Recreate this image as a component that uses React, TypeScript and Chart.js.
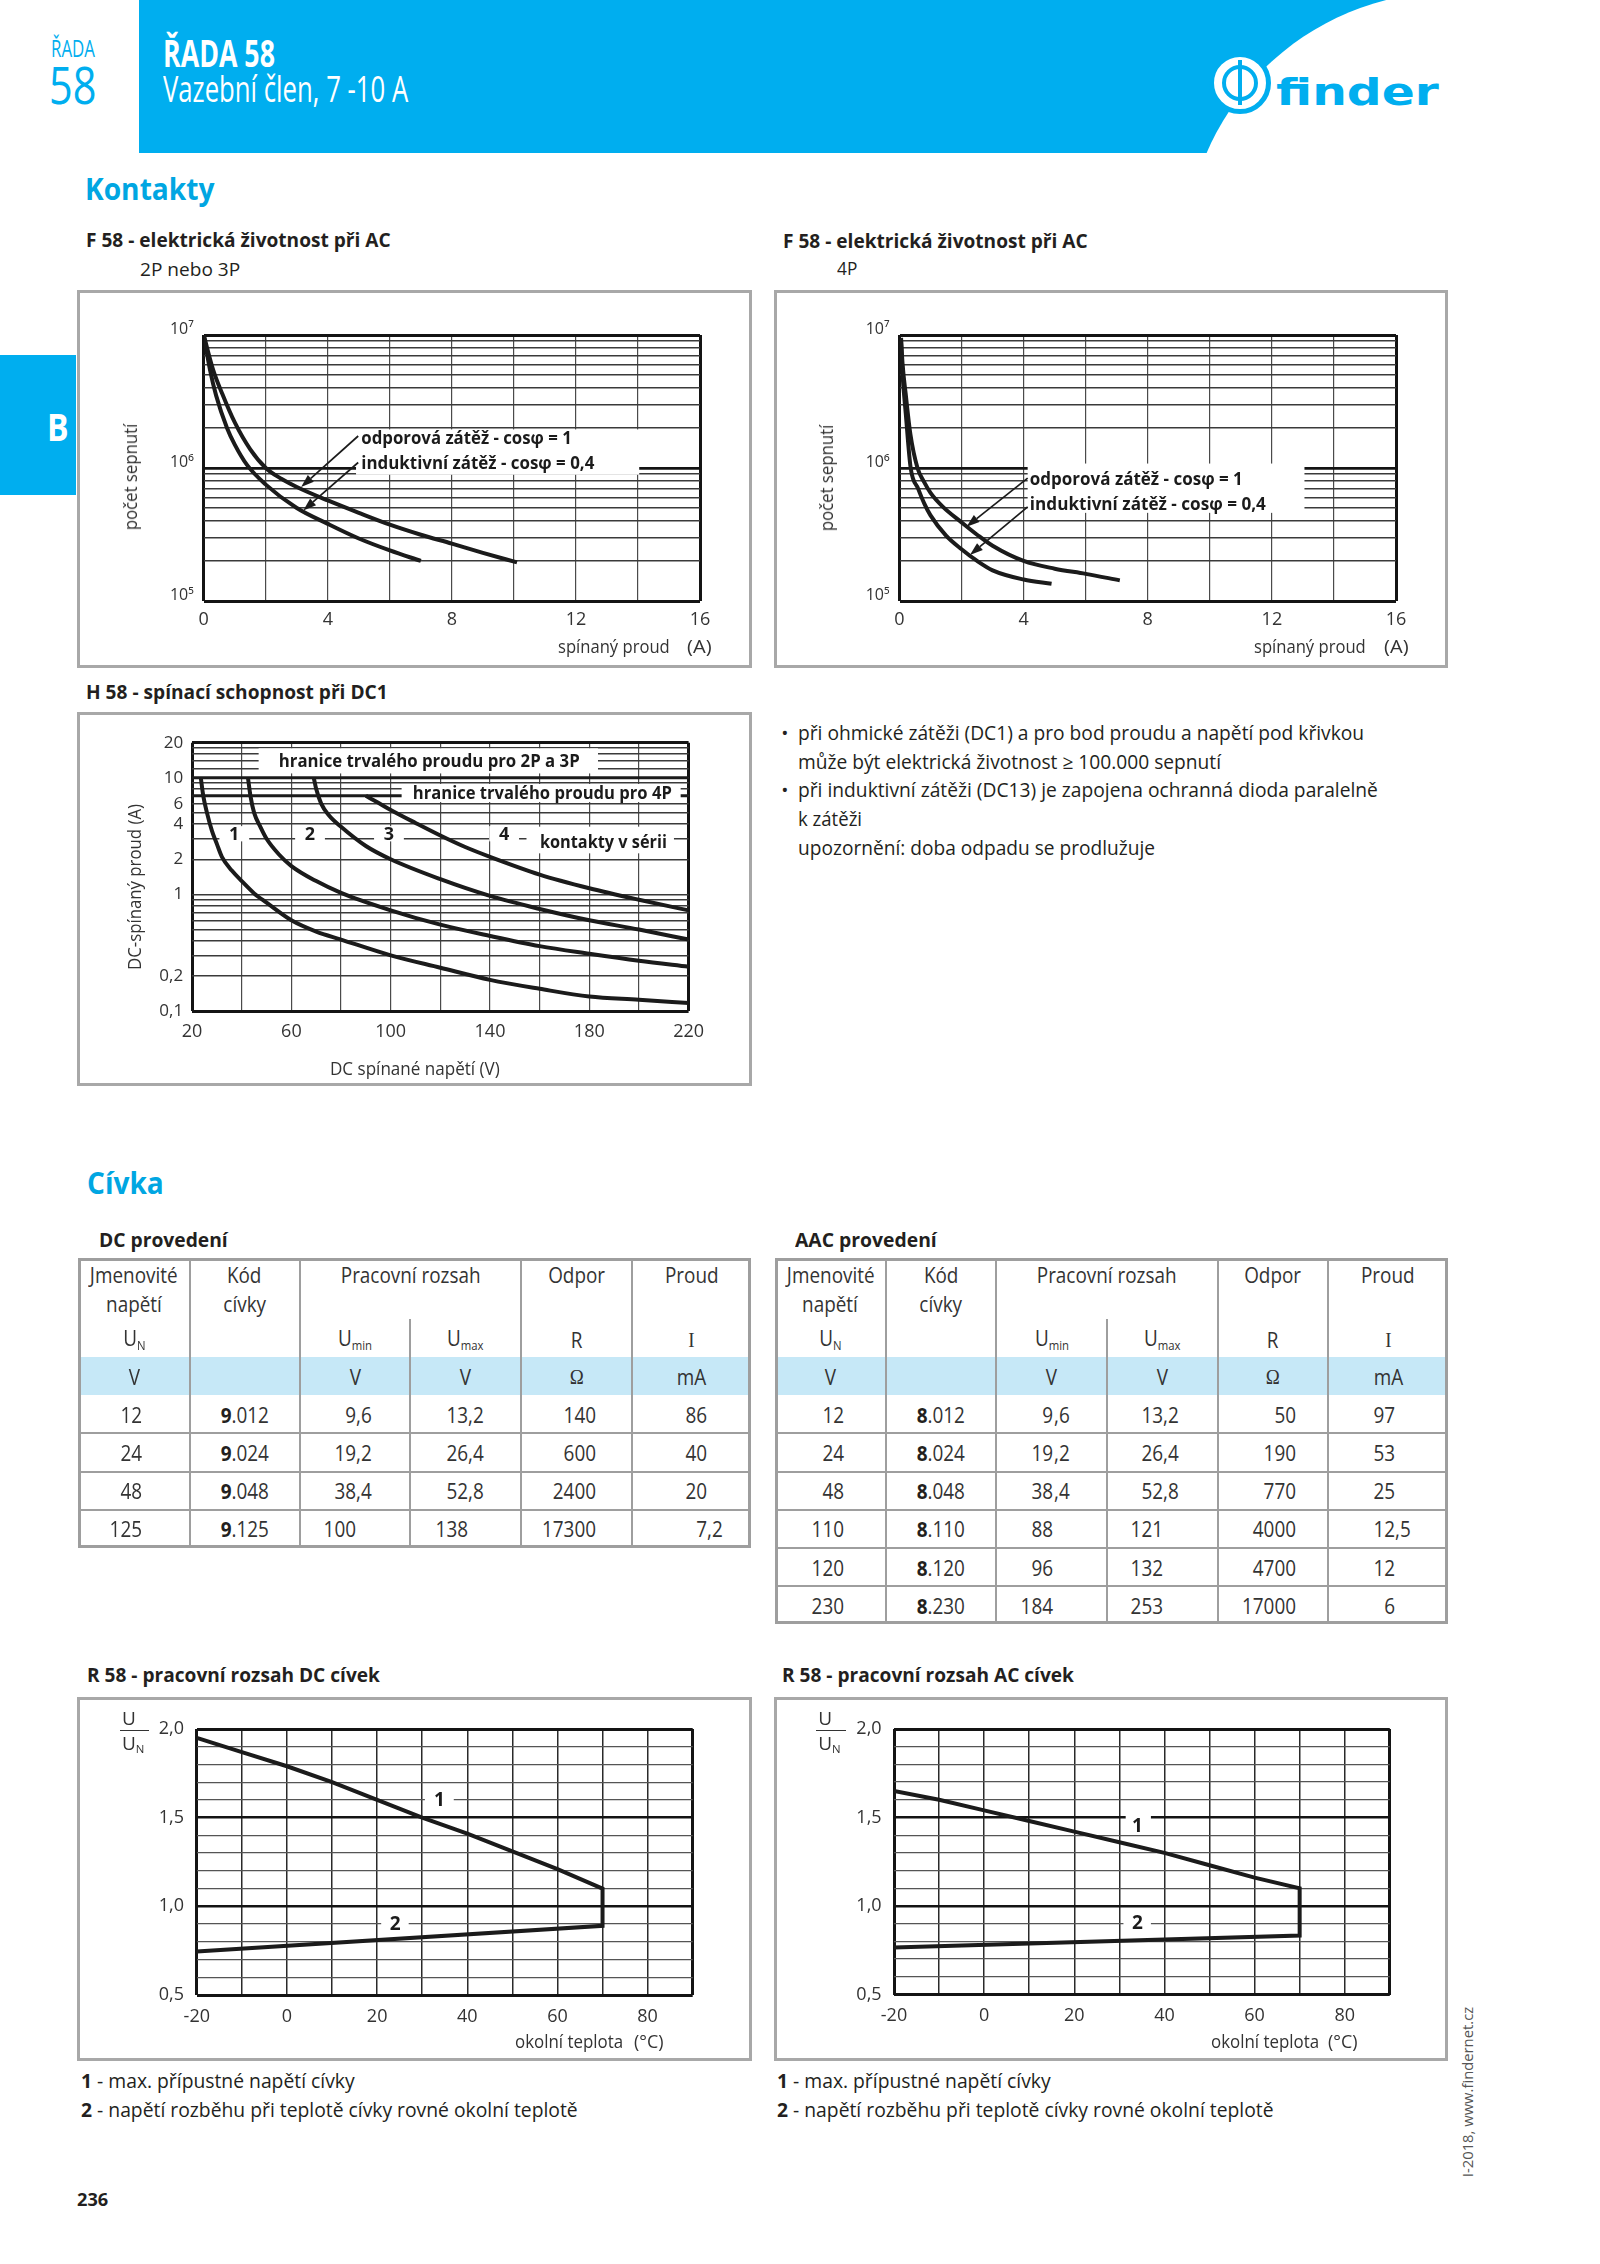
import React, { useEffect, useLayoutEffect, useRef, useState } from 'react';
import { Chart, registerables } from 'chart.js';
Chart.register(...registerables);

const FONT = '"Open Sans", "Noto Sans", sans-serif';
const SERIF = '"Liberation Serif", "DejaVu Serif", serif';
const BLUE = '#00aeef';
const INK = '#231f20';
Chart.defaults.font.family = FONT;

// ---------- F 58 : electrical life AC, 2P / 3P ----------
const life2pCurrentRes = [0, 0.3, 0.6, 1.0, 1.5, 2.0, 2.5, 3.0, 4.0, 5.0, 6.0, 7.0, 8.0, 9.0, 10.1];
const life2pCyclesRes = [1e7, 5.5e6, 3.6e6, 2.2e6, 1.38e6, 1.0e6, 8.3e5, 7.2e5, 5.7e5, 4.6e5, 3.75e5, 3.15e5, 2.7e5, 2.3e5, 1.95e5];
const life2pCurrentInd = [0, 0.2, 0.4, 0.75, 1.0, 1.4, 2.0, 3.0, 4.0, 5.0, 6.0, 7.0];
const life2pCyclesInd = [1e7, 5.5e6, 3.5e6, 2.0e6, 1.5e6, 1.05e6, 7.5e5, 5.0e5, 3.8e5, 2.95e5, 2.4e5, 2.0e5];

// ---------- F 58 : electrical life AC, 4P ----------
const life4pCurrentRes = [0.05, 0.1, 0.2, 0.35, 0.58, 0.8, 1.0, 1.4, 2.0, 2.5, 3.0, 4.0, 5.0, 6.0, 7.1];
const life4pCyclesRes = [9.5e6, 6e6, 3.6e6, 1.8e6, 1.0e6, 7.8e5, 6.5e5, 5.1e5, 3.9e5, 3.15e5, 2.6e5, 2.0e5, 1.75e5, 1.6e5, 1.43e5];
const life4pCurrentInd = [0.05, 0.1, 0.2, 0.36, 0.6, 0.8, 1.0, 1.5, 2.0, 2.5, 3.0, 4.0, 4.9];
const life4pCyclesInd = [9e6, 5e6, 2.6e6, 1.0e6, 7e5, 5.4e5, 4.4e5, 3.1e5, 2.45e5, 2.0e5, 1.7e5, 1.45e5, 1.35e5];

// ---------- H 58 : DC1 breaking capacity ----------
const dc1Volt = [23.5, 24.5, 26, 28, 30, 32, 36, 40, 45, 50, 60, 70, 80, 100, 120, 140, 160, 180, 200, 220];
const dc1Amp = [10, 7, 5, 3.5, 2.7, 2.1, 1.6, 1.3, 1.02, 0.85, 0.6, 0.48, 0.41, 0.3, 0.235, 0.185, 0.155, 0.133, 0.125, 0.117];
const dc2Volt = [42.5, 43.5, 45, 47.5, 50, 55, 60, 70, 80, 100, 120, 140, 160, 180, 200, 220];
const dc2Amp = [10, 7, 5, 3.8, 3.0, 2.2, 1.75, 1.3, 1.03, 0.73, 0.55, 0.44, 0.36, 0.31, 0.27, 0.24];
const dc3Volt = [69, 70, 72, 75, 80, 90, 100, 120, 140, 160, 180, 200, 220];
const dc3Amp = [10, 8, 6, 4.8, 3.8, 2.6, 2.0, 1.35, 0.97, 0.75, 0.6, 0.5, 0.41];
const dc4Volt = [90, 95, 100, 110, 120, 130, 140, 160, 180, 200, 220];
const dc4Amp = [7, 6.1, 5.3, 4.1, 3.2, 2.55, 2.1, 1.48, 1.13, 0.9, 0.73];
const limit2p3pVolt = [20, 220];
const limit2p3pAmp = [10, 10];
const limit4pVolt = [20, 220];
const limit4pAmp = [7, 7];

// ---------- R 58 : coil operating range ----------
const dcCoilTemp = [-20, -10, 0, 10, 20, 30, 40, 50, 60, 70];
const dcCoilMax = [1.95, 1.87, 1.79, 1.70, 1.60, 1.50, 1.41, 1.31, 1.21, 1.10];
const dcCoilMinTemp = [-20, 70];
const dcCoilMin = [0.745, 0.89];
const acCoilTemp = [-20, -10, 0, 10, 20, 30, 40, 50, 60, 70];
const acCoilMax = [1.65, 1.60, 1.54, 1.48, 1.42, 1.36, 1.30, 1.23, 1.16, 1.10];
const acCoilMinTemp = [-20, 70];
const acCoilMin = [0.765, 0.833];

// ---------- ticks ----------
const lifeTicks = [1e5, 2e5, 3e5, 4e5, 5e5, 6e5, 7e5, 8e5, 9e5, 1e6, 2e6, 3e6, 4e6, 5e6, 6e6, 7e6, 8e6, 9e6, 1e7];
const lifeLabelValues = [1e5, 1e6, 1e7];
const lifeLabelTexts = ['10⁵', '10⁶', '10⁷'];
const currentTicks = [0, 2, 4, 6, 8, 10, 12, 14, 16];
const currentLabelValues = [0, 4, 8, 12, 16];
const voltTicks = [20, 40, 60, 80, 100, 120, 140, 160, 180, 200, 220];
const voltLabelValues = [20, 60, 100, 140, 180, 220];
const ampTicks = [0.1, 0.2, 0.3, 0.4, 0.5, 0.6, 0.7, 0.8, 0.9, 1, 2, 3, 4, 5, 6, 7, 8, 9, 10, 12, 14, 16, 18, 20];
const ampLabelValues = [0.1, 0.2, 1, 2, 4, 6, 10, 20];
const ampLabelTexts = ['0,1', '0,2', '1', '2', '4', '6', '10', '20'];
const tempTicks = [-20, -10, 0, 10, 20, 30, 40, 50, 60, 70, 80, 90];
const tempLabelValues = [-20, 0, 20, 40, 60, 80];
const ratioTicks = [0.5, 0.6, 0.7, 0.8, 0.9, 1.0, 1.1, 1.2, 1.3, 1.4, 1.5, 1.6, 1.7, 1.8, 1.9, 2.0];
const ratioLabelValues = [0.5, 1.0, 1.5, 2.0];
const ratioLabelTexts = ['0,5', '1,0', '1,5', '2,0'];

// ---------- coil tables ----------
const dcRatedV = ['12', '24', '48', '125'];
const dcCode = ['012', '024', '048', '125'];
const dcUmin = ['9,6', '19,2', '38,4', '100'];
const dcUmax = ['13,2', '26,4', '52,8', '138'];
const dcRes = ['140', '600', '2400', '17300'];
const dcCur = ['86', '40', '20', '7,2'];
const acRatedV = ['12', '24', '48', '110', '120', '230'];
const acCode = ['012', '024', '048', '110', '120', '230'];
const acUmin = ['9,6', '19,2', '38,4', '88', '96', '184'];
const acUmax = ['13,2', '26,4', '52,8', '121', '132', '253'];
const acRes = ['50', '190', '770', '4000', '4700', '17000'];
const acCur = ['97', '53', '25', '12,5', '12', '6'];

// ---------- annotations (data coordinates) ----------
const ann2pBoxes = [{ x0: 4.91, x1: 14.04, y0: 8.9e5, y1: 1.95e6 }];
const ann2pTexts = [
  { x: 5.08, y: 1.69e6, text: 'odporová zátěž - cosφ = 1', w: 210.5, size: 17 },
  { x: 5.08, y: 1.08e6, text: 'induktivní zátěž - cosφ = 0,4', w: 233, size: 17 },
];
const ann2pArrows = [
  { x0: 4.98, y0: 1.74e6, x1: 3.14, y1: 7.2e5 },
  { x0: 4.98, y0: 1.1e6, x1: 3.21, y1: 4.8e5 },
];
const ann4pBoxes = [{ x0: 4.13, x1: 13.05, y0: 4.6e5, y1: 1.08e6 }];
const ann4pTexts = [
  { x: 4.2, y: 8.3e5, text: 'odporová zátěž - cosφ = 1', w: 213, size: 17 },
  { x: 4.2, y: 5.37e5, text: 'induktivní zátěž - cosφ = 0,4', w: 236, size: 17 },
];
const ann4pArrows = [
  { x0: 4.13, y0: 8.4e5, x1: 2.16, y1: 3.62e5 },
  { x0: 4.13, y0: 5.1e5, x1: 2.27, y1: 2.22e5 },
];
const annDcBoxes = [
  { x0: 46.8, x1: 183.5, y0: 10.9, y1: 17.9 },
  { x0: 104.4, x1: 216.8, y0: 6.2, y1: 8.85 },
  { x0: 154.7, x1: 214.1, y0: 2.25, y1: 3.81 },
  { x0: 31, x1: 43, y0: 2.85, y1: 3.85 },
  { x0: 61.5, x1: 73.5, y0: 2.85, y1: 3.85 },
  { x0: 93.3, x1: 105.3, y0: 2.85, y1: 3.85 },
  { x0: 139.7, x1: 151.7, y0: 2.85, y1: 3.85 },
];
const annDcTexts = [
  { x: 54.9, y: 13.9, text: 'hranice trvalého proudu pro 2P a 3P', w: 301, size: 17 },
  { x: 108.9, y: 7.36, text: 'hranice trvalého proudu pro 4P', w: 259, size: 17 },
  { x: 160.1, y: 2.8, text: 'kontakty v sérii', w: 127, size: 17 },
  { x: 36.9, y: 3.3, text: '1', size: 18, align: 'center' },
  { x: 67.5, y: 3.3, text: '2', size: 18, align: 'center' },
  { x: 99.3, y: 3.3, text: '3', size: 18, align: 'center' },
  { x: 145.7, y: 3.3, text: '4', size: 18, align: 'center' },
];
const annRdcBoxes = [
  { x0: 30.6, x1: 37, y0: 1.555, y1: 1.645 },
  { x0: 20.9, x1: 27, y0: 0.86, y1: 0.945 },
];
const annRdcTexts = [
  { x: 33.8, y: 1.6, text: '1', size: 19, align: 'center' },
  { x: 24.0, y: 0.904, text: '2', size: 19, align: 'center' },
];
const annRacBoxes = [
  { x0: 31.4, x1: 37, y0: 1.41, y1: 1.525 },
  { x0: 30.9, x1: 37, y0: 0.86, y1: 0.945 },
];
const annRacTexts = [
  { x: 34, y: 1.455, text: '1', size: 19, align: 'center' },
  { x: 34, y: 0.904, text: '2', size: 19, align: 'center' },
];

type Box = { x: number; y: number; w: number; h: number };
type Plot = { l: number; t: number; r: number; b: number };

const boxA: Box = { x: 77, y: 290, w: 675, h: 378 };
const plotA: Plot = { l: 203.75, t: 335, r: 700, b: 601 };
const boxB: Box = { x: 774, y: 290, w: 674, h: 378 };
const plotB: Plot = { l: 899.5, t: 335, r: 1396, b: 601 };
const boxC: Box = { x: 77, y: 712, w: 675, h: 374 };
const plotC: Plot = { l: 192.1, t: 742.7, r: 688.6, b: 1011 };
const boxD: Box = { x: 77, y: 1697, w: 675, h: 364 };
const plotD: Plot = { l: 196.8, t: 1729, r: 692.7, b: 1995 };
const boxE: Box = { x: 774, y: 1697, w: 674, h: 364 };
const plotE: Plot = { l: 894, t: 1729, r: 1389.8, b: 1994.5 };

const near = (a: number, b: number) => Math.abs(a - b) <= 1e-6 * Math.max(1, Math.abs(b));
const has = (arr: number[], v: number) => arr.some((m) => near(v, m));
const zip = (xs: number[], ys: number[]) => xs.map((x, i) => ({ x, y: ys[i] }));

function curve(xs: number[], ys: number[], smooth = true, width = 4) {
  return {
    data: zip(xs, ys),
    showLine: true,
    borderColor: '#1b1b1b',
    backgroundColor: '#1b1b1b',
    borderWidth: width,
    pointRadius: 0,
    fill: false,
    tension: smooth ? 0.4 : 0,
    cubicInterpolationMode: smooth ? 'monotone' : 'default',
    borderJoinStyle: 'miter',
    borderCapStyle: 'butt',
  };
}

function axis(o: any) {
  return {
    type: o.type,
    min: o.min,
    max: o.max,
    afterBuildTicks: (s: any) => {
      s.ticks = o.ticks.map((v: number) => ({ value: v }));
    },
    border: { display: false },
    grid: {
      drawTicks: false,
      color: (c: any) => {
        const v = c.tick ? c.tick.value : NaN;
        return has(o.edges, v) || has(o.majors, v) ? '#141414' : o.minorColor;
      },
      lineWidth: (c: any) => {
        const v = c.tick ? c.tick.value : NaN;
        return has(o.edges, v) ? 3 : has(o.majors, v) ? o.majorWidth : o.minorWidth;
      },
    },
    ticks: {
      autoSkip: false,
      maxRotation: 0,
      minRotation: 0,
      padding: o.padding,
      labelOffset: o.labelOffset || 0,
      color: '#333',
      font: { family: FONT, size: o.fontSize },
      callback: (v: any) => {
        const n = Number(v);
        const i = o.labelValues.findIndex((m: number) => near(n, m));
        return i < 0 ? '' : o.labelTexts ? o.labelTexts[i] : String(o.labelValues[i]);
      },
    },
  };
}

function overlayPlugin(boxes: any[], texts: any[], arrows: any[]) {
  return {
    id: 'overlay',
    afterDatasetsDraw(chart: any) {
      const { ctx } = chart;
      const xs = chart.scales.x;
      const ys = chart.scales.y;
      ctx.save();
      ctx.fillStyle = '#fff';
      for (const b of boxes) {
        const a0 = xs.getPixelForValue(b.x0), a1 = xs.getPixelForValue(b.x1);
        const c0 = ys.getPixelForValue(b.y0), c1 = ys.getPixelForValue(b.y1);
        ctx.fillRect(Math.min(a0, a1), Math.min(c0, c1), Math.abs(a1 - a0), Math.abs(c1 - c0));
      }
      ctx.strokeStyle = '#1b1b1b';
      ctx.fillStyle = '#1b1b1b';
      ctx.lineWidth = 1.7;
      for (const a of arrows) {
        const x0 = xs.getPixelForValue(a.x0), y0 = ys.getPixelForValue(a.y0);
        const x1 = xs.getPixelForValue(a.x1), y1 = ys.getPixelForValue(a.y1);
        const ang = Math.atan2(y1 - y0, x1 - x0);
        const L = 13, W = 4.5;
        const bx = x1 - L * Math.cos(ang), by = y1 - L * Math.sin(ang);
        ctx.beginPath();
        ctx.moveTo(x0, y0);
        ctx.lineTo(bx, by);
        ctx.stroke();
        ctx.beginPath();
        ctx.moveTo(x1, y1);
        ctx.lineTo(bx + W * Math.sin(ang), by - W * Math.cos(ang));
        ctx.lineTo(bx - W * Math.sin(ang), by + W * Math.cos(ang));
        ctx.closePath();
        ctx.fill();
      }
      for (const t of texts) {
        ctx.font = `bold ${t.size}px ${FONT}`;
        const m = ctx.measureText(t.text).width;
        const sx = t.w ? t.w / m : 1;
        const px = xs.getPixelForValue(t.x), py = ys.getPixelForValue(t.y);
        ctx.save();
        ctx.translate(px, py);
        ctx.scale(sx, 1);
        ctx.textAlign = t.align || 'left';
        ctx.textBaseline = 'middle';
        ctx.fillText(t.text, 0, 1);
        ctx.restore();
      }
      ctx.restore();
    },
  };
}

function buildConfig(box: Box, plot: Plot, datasets: any[], xAxis: any, yAxis: any, plugin: any) {
  return {
    type: 'scatter',
    data: { datasets },
    options: {
      responsive: false,
      maintainAspectRatio: false,
      animation: false,
      events: [],
      layout: { padding: { left: 0, top: plot.t - box.y, right: box.x + box.w - plot.r, bottom: 0 } },
      plugins: { legend: { display: false }, tooltip: { enabled: false } },
      scales: {
        x: { ...xAxis, afterFit: (s: any) => { s.height = box.y + box.h - plot.b; } },
        y: { ...yAxis, afterFit: (s: any) => { s.width = plot.l - box.x; } },
      },
    },
    plugins: [plugin],
  };
}

const lifeX = () => axis({ type: 'linear', min: 0, max: 16, ticks: currentTicks, labelValues: currentLabelValues, edges: [0, 16], majors: [], minorColor: '#4a4a4a', minorWidth: 1.2, majorWidth: 2.8, fontSize: 18, padding: 8 });
const lifeY = () => axis({ type: 'logarithmic', min: 1e5, max: 1e7, ticks: lifeTicks, labelValues: lifeLabelValues, labelTexts: lifeLabelTexts, edges: [1e5, 1e7], majors: [1e6], minorColor: '#3a3a3a', minorWidth: 1.6, majorWidth: 2.8, fontSize: 16, padding: 10, labelOffset: -6 });
const voltX = () => axis({ type: 'linear', min: 20, max: 220, ticks: voltTicks, labelValues: voltLabelValues, edges: [20, 220], majors: [], minorColor: '#4a4a4a', minorWidth: 1.2, majorWidth: 2.8, fontSize: 18, padding: 10 });
const ampY = () => axis({ type: 'logarithmic', min: 0.1, max: 20, ticks: ampTicks, labelValues: ampLabelValues, labelTexts: ampLabelTexts, edges: [0.1, 20], majors: [], minorColor: '#3a3a3a', minorWidth: 1.5, majorWidth: 2.8, fontSize: 17, padding: 9 });
const tempX = () => axis({ type: 'linear', min: -20, max: 90, ticks: tempTicks, labelValues: tempLabelValues, edges: [-20, 90], majors: [], minorColor: '#2a2a2a', minorWidth: 1.5, majorWidth: 2.8, fontSize: 18, padding: 11 });
const ratioY = (pad: number) => axis({ type: 'linear', min: 0.5, max: 2.0, ticks: ratioTicks, labelValues: ratioLabelValues, labelTexts: ratioLabelTexts, edges: [0.5, 2.0], majors: [1.0, 1.5], minorColor: '#555', minorWidth: 1.3, majorWidth: 2.6, fontSize: 18, padding: pad });

function rangeDataset(temp: number[], max: number[], minTemp: number[], min: number[]) {
  const xs = [...temp, ...[...minTemp].reverse()];
  const ys = [...max, ...[...min].reverse()];
  return curve(xs, ys, false, 4);
}

function ChartBox({ box, make }: { box: Box; make: () => any }) {
  const ref = useRef<HTMLCanvasElement>(null);
  useEffect(() => {
    const chart = new Chart(ref.current as HTMLCanvasElement, make());
    return () => chart.destroy();
  }, []);
  return (
    <>
      <div style={{ position: 'absolute', left: box.x, top: box.y, width: box.w, height: box.h, border: '3px solid #a8a8a8', boxSizing: 'border-box', background: '#fff' }} />
      <canvas ref={ref} width={box.w} height={box.h} style={{ position: 'absolute', left: box.x, top: box.y, width: box.w, height: box.h }} />
    </>
  );
}

type TxtProps = {
  x: number; cy: number; size: number; children: React.ReactNode; w?: number; sx?: number;
  weight?: number; color?: string; align?: 'left' | 'center' | 'right'; family?: string; rot?: boolean;
};
function Txt(p: TxtProps) {
  const { x, cy, size, children, w, sx, weight = 400, color = INK, align = 'left', family = FONT, rot } = p;
  const ref = useRef<HTMLSpanElement>(null);
  const [s, setS] = useState(sx ?? 1);
  useLayoutEffect(() => {
    if (w && ref.current) {
      const nat = ref.current.offsetWidth;
      if (nat > 0) setS(w / nat);
    }
  }, [w]);
  const base: React.CSSProperties = { fontFamily: family, fontSize: size, fontWeight: weight, color, lineHeight: `${size}px`, whiteSpace: 'nowrap', flexShrink: 0, display: 'inline-block' };
  if (rot) {
    return (
      <div style={{ position: 'absolute', left: x, top: cy, width: 0, height: 0 }}>
        <span ref={ref} style={{ ...base, position: 'absolute', left: 0, top: 0, transformOrigin: 'center center', transform: `translate(-50%,-50%) rotate(-90deg) scaleX(${s})` }}>{children}</span>
      </div>
    );
  }
  const jc = align === 'left' ? 'flex-start' : align === 'right' ? 'flex-end' : 'center';
  const origin = align === 'left' ? 'left center' : align === 'right' ? 'right center' : 'center center';
  return (
    <div style={{ position: 'absolute', left: x, top: cy - size / 2, width: 0, height: size, display: 'flex', justifyContent: jc, alignItems: 'center' }}>
      <span ref={ref} style={{ ...base, transformOrigin: origin, transform: `scaleX(${s})` }}>{children}</span>
    </div>
  );
}

const Sub = ({ children }: { children: React.ReactNode }) => (
  <span style={{ fontSize: '0.6em', position: 'relative', top: '0.3em' }}>{children}</span>
);

function Rect({ x, y, w, h, bg }: { x: number; y: number; w: number; h: number; bg: string }) {
  return <div style={{ position: 'absolute', left: x, top: y, width: w, height: h, background: bg }} />;
}

function CoilTable({ cols, anchors, rows, prefix, cells }: { cols: number[]; anchors: number[]; rows: number[]; prefix: string; cells: string[][] }) {
  const top = 1258, divTop = 1319, unitTop = 1357, unitBot = 1395;
  const bottom = rows[rows.length - 1];
  const line = '#9e9e9e';
  const TS = 21, SX = 0.9;
  const cc = (i: number) => (cols[i] + cols[i + 1]) / 2;
  const out: React.ReactNode[] = [];
  out.push(<Rect key="u" x={cols[0]} y={unitTop} w={cols[6] - cols[0]} h={unitBot - unitTop} bg="#c6e8f7" />);
  for (let i = 1; i < 6; i++) {
    const t = i === 3 ? divTop : top;
    out.push(<Rect key={'v' + i} x={cols[i] - 1} y={t} w={2} h={bottom - t} bg={line} />);
  }
  for (let r = 1; r < rows.length - 1; r++) out.push(<Rect key={'h' + r} x={cols[0]} y={rows[r] - 1} w={cols[6] - cols[0]} h={2} bg={line} />);
  out.push(<div key="b" style={{ position: 'absolute', left: cols[0], top, width: cols[6] - cols[0], height: bottom - top, border: `3px solid ${line}`, boxSizing: 'border-box' }} />);
  const hdr = (k: string, x: number, cy: number, node: React.ReactNode, fam = FONT) => (
    <Txt key={k} x={x} cy={cy} size={TS} sx={SX} align="center" family={fam} color="#333">{node}</Txt>
  );
  out.push(hdr('h1', cc(0), 1275, 'Jmenovité'), hdr('h2', cc(0), 1304, 'napětí'), hdr('h3', cc(0), 1340, <>U<Sub>N</Sub></>));
  out.push(hdr('h4', cc(1), 1275, 'Kód'), hdr('h5', cc(1), 1304, 'cívky'));
  out.push(hdr('h6', cols[3], 1275, 'Pracovní rozsah'), hdr('h7', cc(2), 1340, <>U<Sub>min</Sub></>), hdr('h8', cc(3), 1340, <>U<Sub>max</Sub></>));
  out.push(hdr('h9', cc(4), 1275, 'Odpor'), hdr('h10', cc(4), 1340, 'R'));
  out.push(hdr('h11', cc(5), 1275, 'Proud'), hdr('h12', cc(5), 1340, 'I', SERIF));
  out.push(hdr('u1', cc(0), 1377, 'V'), hdr('u2', cc(2), 1377, 'V'), hdr('u3', cc(3), 1377, 'V'), hdr('u4', cc(4), 1377, 'Ω', SERIF), hdr('u5', cc(5), 1377, 'mA'));
  for (let r = 0; r < rows.length - 1; r++) {
    const cy = (rows[r] + rows[r + 1]) / 2 + 1;
    const row = cells.map((c) => c[r]);
    row.forEach((val, ci) => {
      if (ci === 1) {
        out.push(<Txt key={`c${r}-${ci}`} x={cc(1)} cy={cy} size={TS} sx={SX} align="center" color="#333"><b style={{ color: INK }}>{prefix}</b>.{val}</Txt>);
        return;
      }
      const [ip, fp] = val.split(',');
      const ax = cols[ci] + anchors[ci];
      out.push(<Txt key={`c${r}-${ci}a`} x={ax} cy={cy} size={TS} sx={SX} align="right" color="#333">{ip}</Txt>);
      if (fp !== undefined) out.push(<Txt key={`c${r}-${ci}b`} x={ax} cy={cy} size={TS} sx={SX} align="left" color="#333">{',' + fp}</Txt>);
    });
  }
  return <>{out}</>;
}

function Header() {
  return (
    <>
      <div style={{ position: 'absolute', left: 139, top: 0, width: 1461, height: 153, background: BLUE, overflow: 'hidden' }}>
        <div style={{ position: 'absolute', left: 1451 - 139 - 266, top: 258 - 266, width: 532, height: 532, borderRadius: '50%', background: '#fff' }} />
        <div style={{ position: 'absolute', left: 1451 - 139, top: 0, width: 400, height: 153, background: '#fff' }} />
      </div>
      <Txt x={51} cy={48} size={23} w={44} color={BLUE}>ŘADA</Txt>
      <Txt x={49} cy={83.5} size={52} w={47} color={BLUE}>58</Txt>
      <Txt x={163} cy={52} size={38} w={112} weight={700} color="#fff">ŘADA 58</Txt>
      <Txt x={163} cy={89} size={36} w={245} color="#fff">Vazební člen, 7 -10 A</Txt>
      <div style={{ position: 'absolute', left: 1209, top: 51.5, width: 62, height: 62, borderRadius: '50%', background: '#fff', border: `5px solid ${BLUE}`, boxSizing: 'border-box' }} />
      <div style={{ position: 'absolute', left: 1222, top: 65, width: 36, height: 36, borderRadius: '50%', border: `4px solid ${BLUE}`, boxSizing: 'border-box' }} />
      <Rect x={1238} y={60} w={4} h={45} bg={BLUE} />
      <Txt x={1275.5} cy={92} size={38} w={163} weight={700} color={BLUE} family='"DejaVu Sans", sans-serif'>finder</Txt>
      <Rect x={0} y={355} w={76} h={140} bg={BLUE} />
      <Txt x={46.7} cy={426.7} size={37} w={21.7} weight={700} color="#fff">B</Txt>
    </>
  );
}

export default function App() {
  return (
    <div style={{ position: 'absolute', left: 0, top: 0, width: 1600, height: 2264, background: '#fff', overflow: 'hidden', fontFamily: FONT, color: INK }}>
      <Header />

      <Txt x={84.6} cy={189} size={30} w={129.5} weight={700} color="#00a6e2">Kontakty</Txt>
      <Txt x={85.9} cy={240} size={19} w={304.5} weight={700}>F 58 - elektrická životnost při AC</Txt>
      <Txt x={140.4} cy={269} size={19} w={100.4}>2P nebo 3P</Txt>
      <Txt x={782.5} cy={241} size={19} w={304.5} weight={700}>F 58 - elektrická životnost při AC</Txt>
      <Txt x={837} cy={268} size={19} w={20}>4P</Txt>

      <ChartBox box={boxA} make={() => buildConfig(boxA, plotA,
        [curve(life2pCurrentRes, life2pCyclesRes), curve(life2pCurrentInd, life2pCyclesInd)],
        lifeX(), lifeY(), overlayPlugin(ann2pBoxes, ann2pTexts, ann2pArrows))} />
      <Txt x={130} cy={476.7} size={18} w={106} rot color="#333">počet sepnutí</Txt>
      <Txt x={557.8} cy={646} size={18} w={111.6} color="#333">spínaný proud</Txt>
      <Txt x={687.2} cy={646} size={18} w={24.6} color="#333">(A)</Txt>

      <ChartBox box={boxB} make={() => buildConfig(boxB, plotB,
        [curve(life4pCurrentRes, life4pCyclesRes), curve(life4pCurrentInd, life4pCyclesInd)],
        lifeX(), lifeY(), overlayPlugin(ann4pBoxes, ann4pTexts, ann4pArrows))} />
      <Txt x={825.8} cy={478} size={18} w={106} rot color="#333">počet sepnutí</Txt>
      <Txt x={1254.4} cy={646} size={18} w={111.6} color="#333">spínaný proud</Txt>
      <Txt x={1383.8} cy={646} size={18} w={24.6} color="#333">(A)</Txt>

      <Txt x={85.9} cy={692} size={19} w={302} weight={700}>H 58 - spínací schopnost při DC1</Txt>
      <ChartBox box={boxC} make={() => buildConfig(boxC, plotC,
        [curve(limit2p3pVolt, limit2p3pAmp, false, 3), curve(limit4pVolt, limit4pAmp, false, 3),
         curve(dc1Volt, dc1Amp), curve(dc2Volt, dc2Amp), curve(dc3Volt, dc3Amp), curve(dc4Volt, dc4Amp)],
        voltX(), ampY(), overlayPlugin(annDcBoxes, annDcTexts, []))} />
      <Txt x={133.7} cy={886.7} size={18} w={166} rot color="#333">DC-spínaný proud (A)</Txt>
      <Txt x={330} cy={1068} size={18} w={169.6} color="#333">DC spínané napětí (V)</Txt>

      <Txt x={781.2} cy={733} size={19}>•</Txt>
      <Txt x={797.7} cy={733} size={19.5} w={566}>při ohmické zátěži (DC1) a pro bod proudu a napětí pod křivkou</Txt>
      <Txt x={797.7} cy={762} size={19.5} w={423}>může být elektrická životnost ≥ 100.000 sepnutí</Txt>
      <Txt x={781.2} cy={790} size={19}>•</Txt>
      <Txt x={797.7} cy={790} size={19.5} w={579.5}>při induktivní zátěži (DC13) je zapojena ochranná dioda paralelně</Txt>
      <Txt x={797.7} cy={819} size={19.5} w={63.8}>k zátěži</Txt>
      <Txt x={797.7} cy={848} size={19.5} w={357}>upozornění: doba odpadu se prodlužuje</Txt>

      <Txt x={86.6} cy={1183} size={30} w={76.7} weight={700} color="#00a6e2">Cívka</Txt>
      <Txt x={99} cy={1240} size={19} w={128.6} weight={700}>DC provedení</Txt>
      <Txt x={794.6} cy={1240} size={19} w={141.5} weight={700}>AAC provedení</Txt>

      <CoilTable cols={[78.4, 189.5, 299.7, 410.3, 521, 631.6, 751]} anchors={[63.3, 0, 56.4, 57.4, 75.3, 75.8]}
        rows={[1395, 1433.3, 1471.6, 1509.8, 1548]} prefix="9"
        cells={[dcRatedV, dcCode, dcUmin, dcUmax, dcRes, dcCur]} />
      <CoilTable cols={[774.5, 886, 996.3, 1107, 1217.8, 1328, 1448]} anchors={[69.2, 0, 57.2, 55.9, 78.1, 67]}
        rows={[1395, 1433.3, 1471.6, 1509.8, 1548, 1586.2, 1624.4]} prefix="8"
        cells={[acRatedV, acCode, acUmin, acUmax, acRes, acCur]} />

      <Txt x={86.6} cy={1675} size={19} w={292.5} weight={700}>R 58 - pracovní rozsah DC cívek</Txt>
      <ChartBox box={boxD} make={() => buildConfig(boxD, plotD,
        [rangeDataset(dcCoilTemp, dcCoilMax, dcCoilMinTemp, dcCoilMin)],
        tempX(), ratioY(12.8), overlayPlugin(annRdcBoxes, annRdcTexts, []))} />
      <Txt x={122} cy={1718.5} size={19} color="#333">U</Txt>
      <Rect x={119.7} y={1729.5} w={29.8} h={1.5} bg="#333" />
      <Txt x={122} cy={1744.5} size={19} color="#333">U<Sub>N</Sub></Txt>
      <Txt x={514.5} cy={2041} size={18} w={107.9} color="#333">okolní teplota</Txt>
      <Txt x={633.9} cy={2041} size={18} w={29.8} color="#333">(°C)</Txt>
      <Txt x={80.7} cy={2081} size={19.5} w={273.2}><b>1</b> - max. přípustné napětí cívky</Txt>
      <Txt x={80.7} cy={2109.5} size={19.5} w={497}><b>2</b> - napětí rozběhu při teplotě cívky rovné okolní teplotě</Txt>

      <Txt x={781.5} cy={1675} size={19} w={291.5} weight={700}>R 58 - pracovní rozsah AC cívek</Txt>
      <ChartBox box={boxE} make={() => buildConfig(boxE, plotE,
        [rangeDataset(acCoilTemp, acCoilMax, acCoilMinTemp, acCoilMin)],
        tempX(), ratioY(12.4), overlayPlugin(annRacBoxes, annRacTexts, []))} />
      <Txt x={818.2} cy={1718.5} size={19} color="#333">U</Txt>
      <Rect x={815.9} y={1729.5} w={29.9} h={1.5} bg="#333" />
      <Txt x={818.2} cy={1744.5} size={19} color="#333">U<Sub>N</Sub></Txt>
      <Txt x={1210.8} cy={2041} size={18} w={107.9} color="#333">okolní teplota</Txt>
      <Txt x={1327.8} cy={2041} size={18} w={29.8} color="#333">(°C)</Txt>
      <Txt x={776.9} cy={2081} size={19.5} w={273.2}><b>1</b> - max. přípustné napětí cívky</Txt>
      <Txt x={776.9} cy={2109.5} size={19.5} w={496.8}><b>2</b> - napětí rozběhu při teplotě cívky rovné okolní teplotě</Txt>

      <Txt x={1467.5} cy={2092} size={14} w={170} rot color="#555">I-2018, www.findernet.cz</Txt>
      <Txt x={76.7} cy={2199} size={17} w={31} weight={700}>236</Txt>
    </div>
  );
}
